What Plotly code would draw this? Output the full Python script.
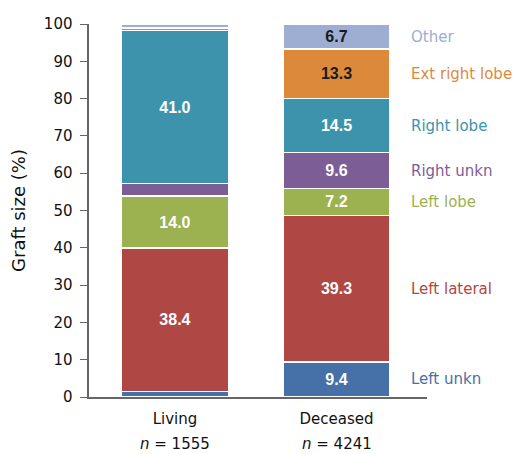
import plotly.graph_objects as go

categories = ["Living", "Deceased"]
n_values = [1555, 4241]
segments = ["Left unkn", "Left lateral", "Left lobe", "Right unkn", "Right lobe", "Ext right lobe", "Other"]
living = [1.5, 38.4, 14.0, 3.3, 41.0, 0.7, 1.1]
deceased = [9.4, 39.3, 7.2, 9.6, 14.5, 13.3, 6.7]
living_labels = ["", "38.4", "14.0", "", "41.0", "", ""]
deceased_labels = ["9.4", "39.3", "7.2", "9.6", "14.5", "13.3", "6.7"]
colors = ["#4670A8", "#AF4744", "#9CB150", "#7D5D96", "#3C93AB", "#DC893C", "#9DADD3"]
label_colors = ["#4670A8", "#AF4744", "#9CB150", "#7D5D96", "#3C93AB", "#DC893C", "#9DADD3"]
text_colors = ["white", "white", "white", "white", "white", "#1a1a1a", "#1a1a1a"]

xpos = [0, 1]
fig = go.Figure()
for i, seg in enumerate(segments):
    fig.add_trace(go.Bar(
        x=xpos, y=[living[i], deceased[i]], name=seg,
        text=[living_labels[i], deceased_labels[i]],
        textposition="inside", insidetextanchor="middle",
        textfont=dict(family="Liberation Sans", size=16, color=text_colors[i], weight="bold"),
        marker=dict(color=colors[i], line=dict(color="white", width=1.5)),
        width=0.66, showlegend=False, hoverinfo="skip",
    ))

cum = 0
for i, seg in enumerate(segments):
    mid = cum + deceased[i] / 2
    cum += deceased[i]
    fig.add_annotation(x=1, y=mid, xref="x", yref="y", text=seg, showarrow=False,
                       xanchor="left", xshift=72, font=dict(family="DejaVu Sans", size=15, color=label_colors[i]))

for x, n in zip(xpos, n_values):
    fig.add_annotation(x=x, y=0, xref="x", yref="paper", text=f"<i>n</i> = {n}", showarrow=False,
                       xanchor="center", yanchor="middle", yshift=-47,
                       font=dict(family="DejaVu Sans", size=15, color="#111"))

fig.update_layout(
    barmode="stack", width=515, height=446,
    margin=dict(l=81, r=96, t=16, b=57),
    plot_bgcolor="white", paper_bgcolor="white",
    font=dict(family="DejaVu Sans", size=15, color="#111"),
    xaxis=dict(range=[-0.532, 1.56], tickvals=xpos, ticktext=categories, showline=True,
               linecolor="#666", linewidth=1.5, ticks="", showgrid=False, zeroline=False,
               automargin=False, ticklabelstandoff=7),
    yaxis=dict(range=[0, 100], dtick=10, showline=True, linecolor="#666", linewidth=1.5,
               ticks="outside", ticklen=7, tickcolor="#666", showgrid=False, zeroline=False,
               ticksuffix=" ", automargin=False,
               title=dict(text="Graft size (%)", standoff=14)),
)
fig.write_html("out.html")
